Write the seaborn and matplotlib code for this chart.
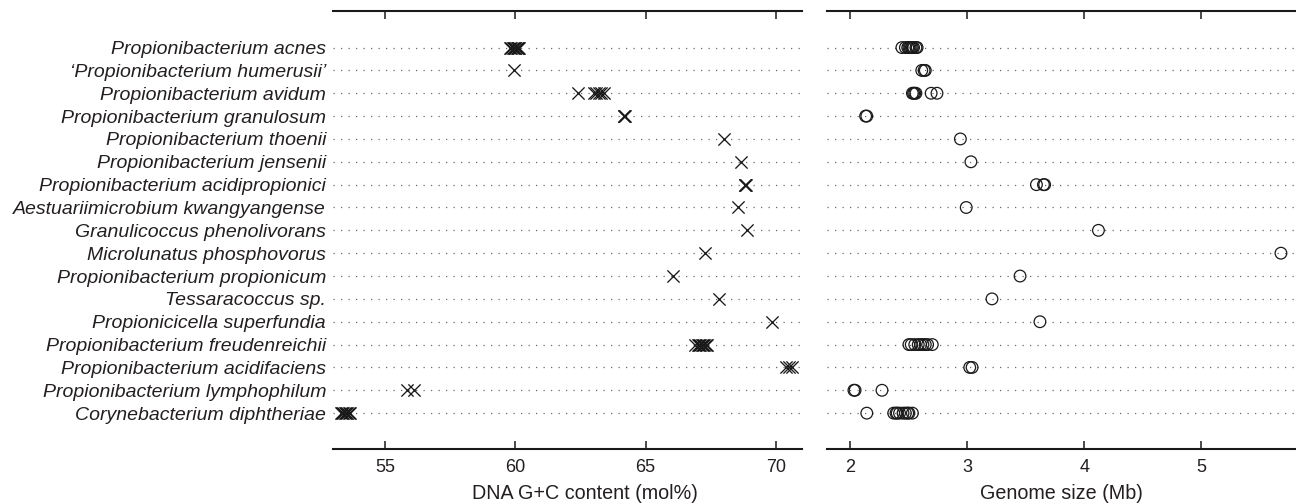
import numpy as np
import pandas as pd
import matplotlib
matplotlib.use("Agg")
import matplotlib.pyplot as plt
import seaborn as sns

species = [
    "Propionibacterium acnes",
    "\u2018Propionibacterium humerusii\u2019",
    "Propionibacterium avidum",
    "Propionibacterium granulosum",
    "Propionibacterium thoenii",
    "Propionibacterium jensenii",
    "Propionibacterium acidipropionici",
    "Aestuariimicrobium kwangyangense",
    "Granulicoccus phenolivorans",
    "Microlunatus phosphovorus",
    "Propionibacterium propionicum",
    "Tessaracoccus sp.",
    "Propionicicella superfundia",
    "Propionibacterium freudenreichii",
    "Propionibacterium acidifaciens",
    "Propionibacterium lymphophilum",
    "Corynebacterium diphtheriae",
]

gc_content = [
    [59.8, 59.85, 59.9, 59.95, 60.0, 60.0, 60.05, 60.1, 60.1, 60.15],
    [59.95],
    [62.4, 63.0, 63.1, 63.2, 63.3, 63.4],
    [64.15, 64.17, 64.2],
    [68.0],
    [68.65],
    [68.8, 68.82, 68.85],
    [68.55],
    [68.9],
    [67.28],
    [66.05],
    [67.8],
    [69.85],
    [66.9, 67.0, 67.05, 67.1, 67.15, 67.2, 67.25, 67.3, 67.35],
    [70.4, 70.5, 70.6],
    [55.85, 56.1],
    [53.3, 53.35, 53.4, 53.45, 53.5, 53.55, 53.6, 53.65],
]

genome_size = [
    [2.44, 2.47, 2.49, 2.5, 2.51, 2.52, 2.53, 2.54, 2.56, 2.57],
    [2.61, 2.63, 2.64],
    [2.53, 2.54, 2.55, 2.56, 2.69, 2.74],
    [2.13, 2.14],
    [2.94],
    [3.03],
    [3.59, 3.65, 3.66],
    [2.99],
    [4.12],
    [5.68],
    [3.45],
    [3.21],
    [3.62],
    [2.5, 2.52, 2.55, 2.58, 2.6, 2.62, 2.64, 2.66, 2.7],
    [3.02, 3.04],
    [2.03, 2.04, 2.27],
    [2.14, 2.37, 2.39, 2.4, 2.42, 2.45, 2.47, 2.49, 2.5, 2.53],
]

gc_ticks = [55, 60, 65, 70]
size_ticks = [2, 3, 4, 5]

gc_df = pd.DataFrame(
    [(sp, v) for sp, vals in zip(species, gc_content) for v in vals],
    columns=["species", "gc"],
)
size_df = pd.DataFrame(
    [(sp, v) for sp, vals in zip(species, genome_size) for v in vals],
    columns=["species", "size"],
)

sns.set_theme(style="white")
plt.rcParams["font.family"] = ["Liberation Sans", "DejaVu Sans"]
text_color = "#231f20"
plt.rcParams["text.color"] = text_color
plt.rcParams["axes.labelcolor"] = text_color
plt.rcParams["xtick.color"] = text_color
plt.rcParams["ytick.color"] = text_color

fig = plt.figure(figsize=(12.96, 5.04), dpi=100)
ax1 = fig.add_axes([333 / 1296, 55 / 504, 469 / 1296, 438 / 504])
ax2 = fig.add_axes([827 / 1296, 55 / 504, 468 / 1296, 438 / 504], sharey=ax1)

sns.stripplot(
    data=gc_df, x="gc", y="species", order=species, orient="h",
    jitter=False, marker="x", color="#1a1a1a", s=8.8, linewidth=0.95, ax=ax1,
)
sns.stripplot(
    data=size_df, x="size", y="species", order=species, orient="h",
    jitter=False, marker="o", color="white", edgecolor="#1a1a1a",
    s=8.4, linewidth=0.9, ax=ax2,
)
for coll in ax2.collections:
    coll.set_facecolor("none")
    coll.set_edgecolor("#1a1a1a")

ax1.set_xlim(53, 71)
ax2.set_xlim(1.8, 5.8)
ax1.set_ylim(17.57, -1.6)

ax1.set_xticks(gc_ticks)
ax2.set_xticks(size_ticks)

ax1.set_xlabel("DNA G+C content (mol%)", fontsize=14.2)
ax2.set_xlabel("Genome size (Mb)", fontsize=14.2)
ax1.xaxis.set_label_coords((585 - 333) / 469, -0.08, transform=ax1.transAxes)
ax2.xaxis.set_label_coords(0.5, -0.08, transform=ax2.transAxes)
for ax in (ax1, ax2):
    ax.xaxis.label.set_verticalalignment("top")
ax1.set_ylabel("")
ax2.set_ylabel("")

for ax in (ax1, ax2):
    for side in ("left", "right"):
        ax.spines[side].set_visible(False)
    for side in ("top", "bottom"):
        ax.spines[side].set_visible(True)
        ax.spines[side].set_linewidth(1.5)
        ax.spines[side].set_color("#1a1a1a")
    ax.tick_params(axis="x", which="both", direction="in", top=True, bottom=True,
                   labeltop=False, labelbottom=True, length=6, width=1.1,
                   labelsize=13, pad=7, color="#1a1a1a")
    ax.tick_params(axis="y", length=0)
    ax.yaxis.grid(True, linestyle=(0, (1, 5)), color="#6a6a6a", linewidth=0.9)
    ax.xaxis.grid(False)
    ax.set_axisbelow(True)
    ax.set_facecolor("none")

ax1.tick_params(axis="y", labelsize=14, pad=5)
for lab in ax1.get_yticklabels():
    lab.set_fontstyle("italic")
ax2.tick_params(axis="y", labelleft=False)

fig.savefig("out.png", dpi=100)
